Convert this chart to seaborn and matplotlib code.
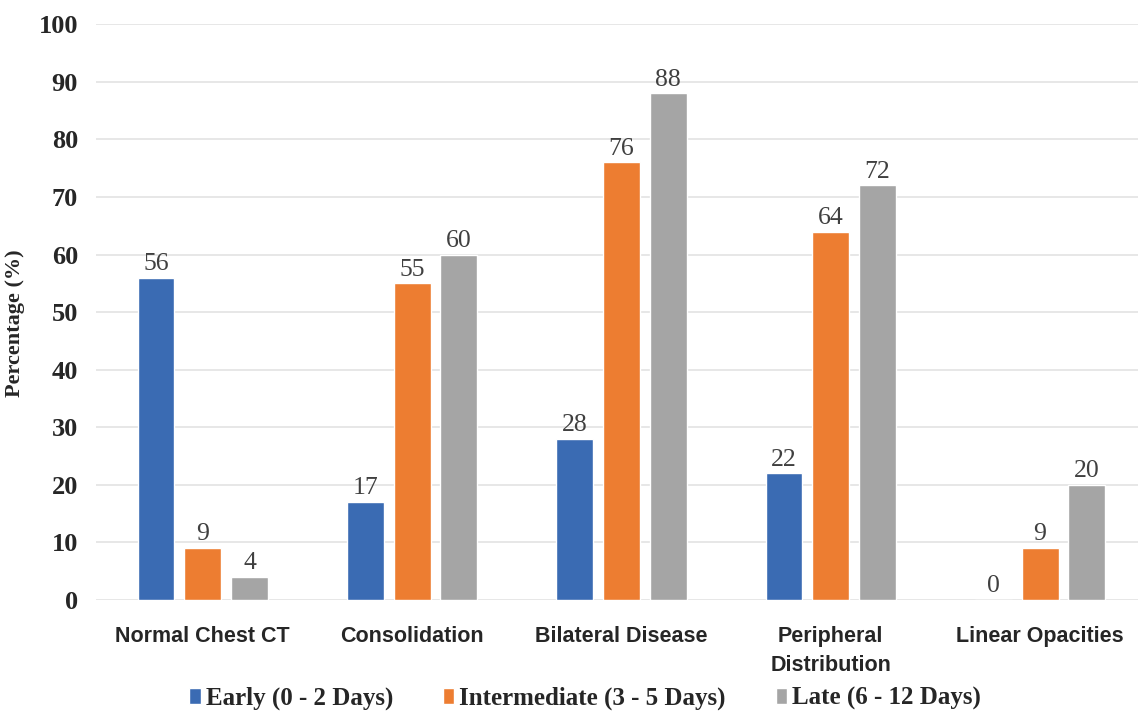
import numpy as np
import pandas as pd
import matplotlib.pyplot as plt
import seaborn as sns

categorias = ['Normal Chest CT', 'Consolidation', 'Bilateral Disease',
              'Peripheral\nDistribution', 'Linear Opacities']
grupos = ['Early (0 - 2 Days)', 'Intermediate (3 - 5 Days)', 'Late (6 - 12 Days)']
early = [56, 17, 28, 22, 0]
intermediate = [9, 55, 76, 64, 9]
late = [4, 60, 88, 72, 20]
cores = ['#3A6BB3', '#ED7D31', '#A5A5A5']
yticks = list(range(0, 101, 10))

df = pd.DataFrame({
    'Categoria': categorias * 3,
    'Grupo': np.repeat(grupos, len(categorias)),
    'Valor': early + intermediate + late,
})

sns.set_theme(style="white")
serif = ['Liberation Serif', 'DejaVu Serif']
narrow = ['Liberation Sans Narrow', 'Liberation Sans', 'DejaVu Sans']

fig = plt.figure(figsize=(11.43, 7.11), dpi=100)
ax = fig.add_axes([0.084, 0.156, 0.912, 0.81])

sns.barplot(data=df, x='Categoria', y='Valor', hue='Grupo', palette=cores,
            width=0.67, gap=0.21, ax=ax, legend=True, saturation=1)

for cont in ax.containers:
    ax.bar_label(cont, fmt='%d', padding=2, fontsize=18.5, color='#404040',
                 family=serif)

ax.set_ylim(0, 100)
ax.set_xlim(-0.51, 4.47)
ax.set_yticks(yticks)
ax.set_yticklabels([str(t) for t in yticks], fontsize=19, fontweight='bold',
                   family=serif)
ax.set_xticklabels(categorias, fontsize=15.5, fontweight='bold', family=narrow,
                   linespacing=1.5)
ax.tick_params(axis='x', pad=19, length=0)
ax.tick_params(axis='y', pad=13, length=0)
ax.grid(axis='y', color='#E3E3E3', linewidth=1.2)
ax.set_axisbelow(True)
for s in ax.spines.values():
    s.set_visible(False)
ax.set_xlabel('')
ax.set_ylabel('Percentage (%)', fontsize=16, fontweight='bold', family=serif)
ax.yaxis.set_label_coords(-0.068, 0.48)

handles, labels = ax.get_legend_handles_labels()
ax.get_legend().remove()
fig.legend(handles, labels, loc='lower center', bbox_to_anchor=(585 / 1143, -0.03),
           ncol=3, frameon=False, handlelength=0.45, handleheight=0.6,
           handletextpad=0.2, columnspacing=2.0,
           prop={'family': serif, 'weight': 'bold', 'size': 18})

plt.savefig('out.png', dpi=100)
